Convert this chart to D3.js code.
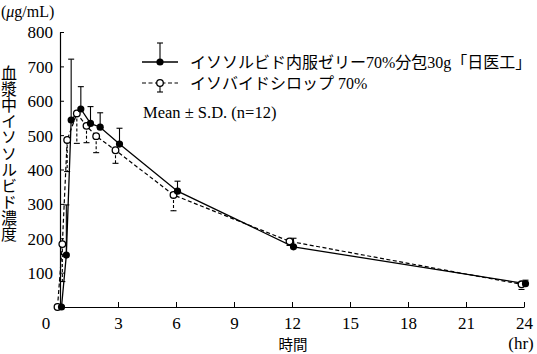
<!DOCTYPE html>
<html><head><meta charset="utf-8">
<script src="https://cdn.jsdelivr.net/npm/d3@7"></script>
<style>
html,body{margin:0;padding:0;background:#fff;}
#wrap{position:relative;width:537px;height:354px;}
svg{display:block;}
text{fill:#000;}
#ytitle{position:absolute;left:1px;top:65px;writing-mode:vertical-rl;font-family:'Noto Sans CJK JP',sans-serif;
  font-size:16px;line-height:16px;width:16px;letter-spacing:0.1px;color:#000;white-space:nowrap;}
</style></head>
<body>
<div id="wrap">
<svg id="c" width="537" height="354"></svg>
<div id="ytitle"></div>
</div>
<script>
// ---- data ----
const times   = [0, 0.25, 0.5, 1, 1.5, 2, 3, 6, 12, 24];
const jelly   = [0, 151, 544, 576, 534, 523, 474, 337, 175, 68];
const jellySD = [0, 146, 177, 65, 49, 42, 46, 29, 25, 10];
const syrup   = [0, 183, 486, 563, 527, 497, 456, 326, 191, 66];
const syrupSD = [0, 109, 92, 87, 49, 48, 38, 46, 12, 15];
const xTicks = [3, 6, 9, 12, 15, 18, 21, 24];
const yTicks = [100, 200, 300, 400, 500, 600, 700, 800];
const originLabel = "0";
const seriesNames = ["イソソルビド内服ゼリー70%分包30g「日医工」", "イソバイドシロップ 70%"];
const noteText = "Mean ± S.D. (n=12)";
const yTitle = "血漿中イソソルビド濃度";
const xTitle = "時間";
const xUnit = "(hr)";

const serif = "'Liberation Serif','Noto Sans CJK JP',serif";
const svg = d3.select("#c");
const x = d3.scaleLinear().domain([0, 24]).range([60, 524]);
const y = d3.scaleLinear().domain([0, 800]).range([307, 32]);

// axes
const gx = svg.append("g").attr("transform", `translate(0,${y(0)})`)
  .call(d3.axisBottom(x).tickValues(xTicks).tickSize(-5).tickSizeOuter(0).tickPadding(10));
const gy = svg.append("g").attr("transform", `translate(${x(0)},0)`)
  .call(d3.axisLeft(y).tickValues(yTicks).tickSize(-4).tickSizeOuter(0).tickPadding(7));
[gx, gy].forEach(g => {
  g.select(".domain").attr("stroke", "#000").attr("stroke-width", 1.2);
  g.selectAll(".tick line").attr("stroke", "#000").attr("stroke-width", 1);
  g.selectAll(".tick text").attr("font-family", serif).attr("font-size", 17).attr("fill", "#000");
});
gy.selectAll(".tick text").attr("dy", "0.35em");

svg.append("text").attr("x", 46).attr("y", 329).attr("text-anchor", "middle")
  .attr("font-family", serif).attr("font-size", 17).text(originLabel);

// titles
svg.append("text").attr("x", 1).attr("y", 17).attr("font-family", serif).attr("font-size", 16)
  .html("(<tspan font-style='italic'>μ</tspan>g/mL)");
d3.select("#ytitle").text(yTitle);
svg.append("text").attr("x", 293).attr("y", 349.5).attr("text-anchor", "middle")
  .attr("font-family", "'Noto Sans CJK JP',sans-serif").attr("font-size", 14.5).text(xTitle);
svg.append("text").attr("x", 521).attr("y", 349).attr("text-anchor", "middle")
  .attr("font-family", serif).attr("font-size", 17).text(xUnit);

// series
const dodge = {jelly: 1.5, syrup: -2.5};
const mk = (vals, sd) => times.map((t, i) => ({t, v: vals[i], sd: sd[i]}));
const dJ = mk(jelly, jellySD), dS = mk(syrup, syrupSD);
const line = off => d3.line().x(d => x(d.t) + off).y(d => y(d.v));

svg.append("path").datum(dS).attr("d", line(dodge.syrup)).attr("fill", "none")
  .attr("stroke", "#000").attr("stroke-width", 1.2).attr("stroke-dasharray", "4,2.5");
svg.append("path").datum(dJ).attr("d", line(dodge.jelly)).attr("fill", "none")
  .attr("stroke", "#000").attr("stroke-width", 1.3);

function errBars(data, off, dir, dash) {
  const g = svg.append("g").attr("stroke", "#000").attr("stroke-width", 1.1);
  data.filter(d => d.sd > 0).forEach(d => {
    const cx = x(d.t) + off, y1 = y(d.v), y2 = y(d.v + dir * d.sd);
    g.append("line").attr("x1", cx).attr("x2", cx).attr("y1", y1).attr("y2", y2)
      .attr("stroke-dasharray", dash);
    g.append("line").attr("x1", cx - 3).attr("x2", cx + 3).attr("y1", y2).attr("y2", y2);
  });
}
errBars(dS, dodge.syrup, -1, "3,2");
errBars(dJ, dodge.jelly, 1, null);

svg.append("g").selectAll("circle").data(dS).join("circle")
  .attr("cx", d => x(d.t) + dodge.syrup).attr("cy", d => y(d.v)).attr("r", 3.3)
  .attr("fill", "#fff").attr("stroke", "#000").attr("stroke-width", 1.3);
svg.append("g").selectAll("circle").data(dJ).join("circle")
  .attr("cx", d => x(d.t) + dodge.jelly).attr("cy", d => y(d.v)).attr("r", 3.6)
  .attr("fill", "#000");

// legend
const lg = svg.append("g");
const rows = [62, 83];
lg.append("line").attr("x1", 142).attr("x2", 178).attr("y1", rows[0]).attr("y2", rows[0])
  .attr("stroke", "#000").attr("stroke-width", 1.3);
lg.append("line").attr("x1", 160).attr("x2", 160).attr("y1", rows[0]).attr("y2", rows[0] - 19)
  .attr("stroke", "#000").attr("stroke-width", 1.1);
lg.append("line").attr("x1", 157).attr("x2", 163).attr("y1", rows[0] - 19).attr("y2", rows[0] - 19)
  .attr("stroke", "#000").attr("stroke-width", 1.1);
lg.append("circle").attr("cx", 160).attr("cy", rows[0]).attr("r", 3.6).attr("fill", "#000");
lg.append("line").attr("x1", 142).attr("x2", 178).attr("y1", rows[1]).attr("y2", rows[1])
  .attr("stroke", "#000").attr("stroke-width", 1.2).attr("stroke-dasharray", "4,2.5");
lg.append("line").attr("x1", 160).attr("x2", 160).attr("y1", rows[1]).attr("y2", rows[1] + 9)
  .attr("stroke", "#000").attr("stroke-width", 1.1);
lg.append("line").attr("x1", 157).attr("x2", 163).attr("y1", rows[1] + 9).attr("y2", rows[1] + 9)
  .attr("stroke", "#000").attr("stroke-width", 1.1);
lg.append("circle").attr("cx", 160).attr("cy", rows[1]).attr("r", 3.3)
  .attr("fill", "#fff").attr("stroke", "#000").attr("stroke-width", 1.3);
seriesNames.forEach((n, i) => {
  lg.append("text").attr("x", 190).attr("y", rows[i]).attr("dy", "0.35em")
    .attr("font-family", serif).attr("font-size", 16).text(n);
});
lg.append("text").attr("x", 143).attr("y", 112).attr("dy", "0.35em")
  .attr("font-family", serif).attr("font-size", 16.5).text(noteText);
</script>
</body></html>
